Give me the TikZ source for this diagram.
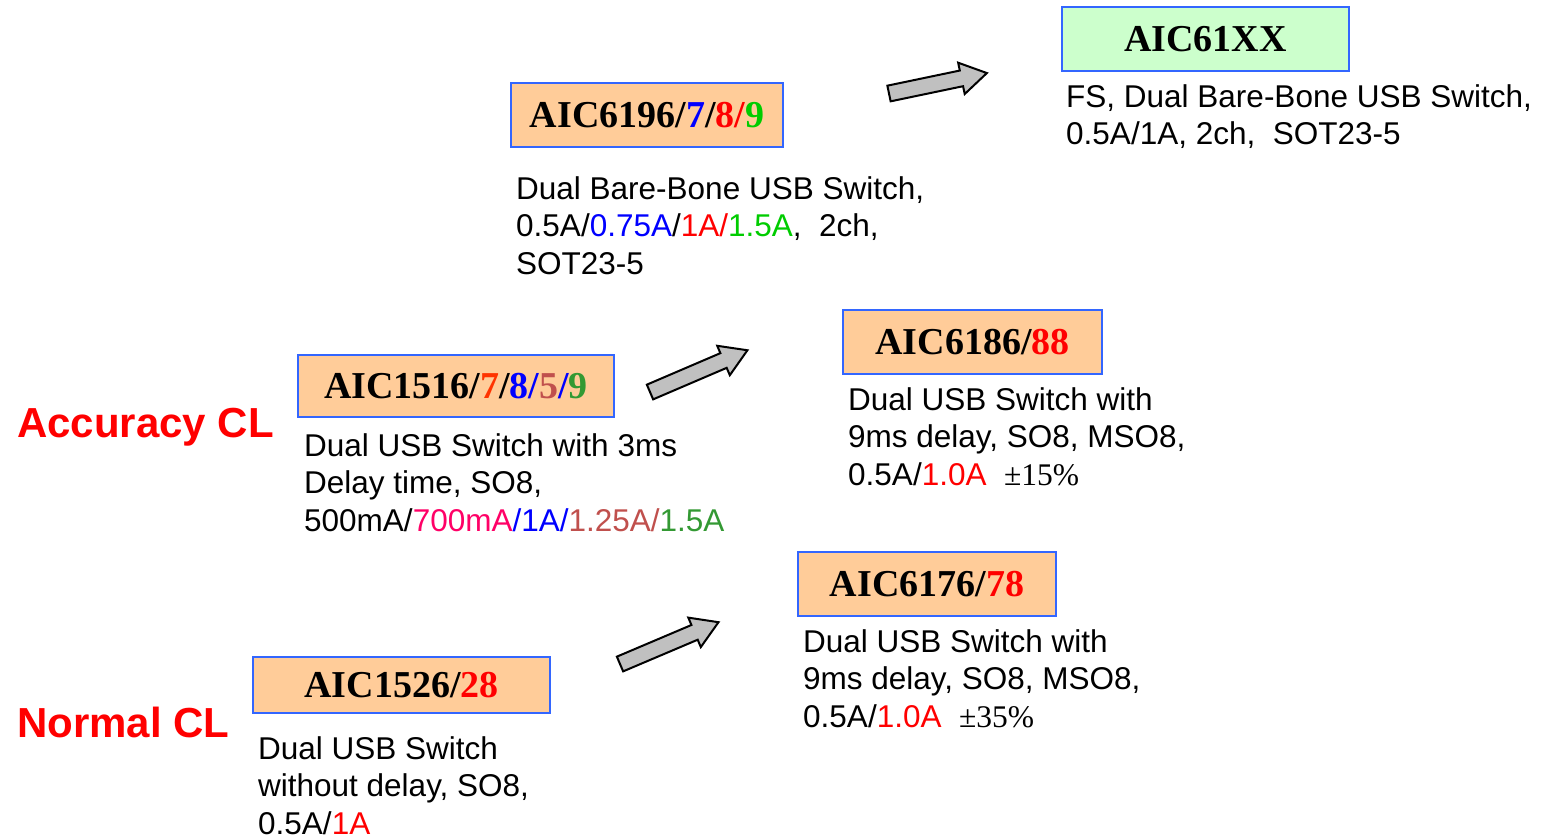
\documentclass[tikz,border=0pt]{standalone}
\usepackage{fontspec}
\setmainfont{Liberation Serif}
\setsansfont{Liberation Sans}
\usetikzlibrary{positioning}

\definecolor{boxorange}{HTML}{FFCC99}
\definecolor{boxgreen}{HTML}{CCFFCC}
\definecolor{boxblue}{HTML}{3366FF}
\definecolor{arrowgray}{HTML}{C0C0C0}
\definecolor{myred}{HTML}{FF0000}
\definecolor{myblue}{HTML}{0000FF}
\definecolor{mygreen}{HTML}{00CC00}
\definecolor{myorange}{HTML}{FF3300}
\definecolor{mypink}{HTML}{FF0066}
\definecolor{mybrown}{HTML}{C0504D}
\definecolor{mydkgreen}{HTML}{339933}

\newcommand\titlefont{\rmfamily\bfseries\fontsize{38}{45}\selectfont}
\newcommand\descfont{\sffamily\fontsize{31.5}{37.5}\selectfont}
\newcommand\labelfont{\sffamily\bfseries\fontsize{42}{50}\selectfont}

\begin{document}
\begin{tikzpicture}[x=1pt,y=-1pt,
  part/.style={draw=boxblue, line width=2pt, fill=boxorange, inner sep=0pt,
    text height=25pt, text depth=0pt, font=\titlefont},
  desc/.style={anchor=north west, align=left, inner sep=0pt, font=\descfont},
  family/.style={anchor=base west, inner sep=0pt, text=myred, font=\labelfont},
  bigarrow/.style={draw=black, line width=2pt, fill=arrowgray, line join=miter}]

\useasboundingbox (0,0) rectangle (1542,839);

\def\blockarrow#1{(0,-8) -- ({#1-26},-8) -- ({#1-26},-16) -- (#1,0)
  -- ({#1-26},16) -- ({#1-26},8) -- (0,8) -- cycle}

% product boxes
\node[part, fill=boxgreen, minimum width=287pt, minimum height=64pt] (n61xx) at (1205.5,39) {AIC61XX};
\node[part, minimum width=272pt, minimum height=64pt] (n6196) at (647,115)
  {AIC6196/\textcolor{myblue}{7}/\textcolor{myred}{8/}\textcolor{mygreen}{9}};
\node[part, minimum width=316pt, minimum height=62pt] (n1516) at (456,386)
  {AIC1516/\textcolor{myorange}{7}/\textcolor{myblue}{8/}\textcolor{mybrown}{5}\textcolor{myblue}{/}\textcolor{mydkgreen}{9}};
\node[part, minimum width=259pt, minimum height=64pt] (n6186) at (972.5,342) {AIC6186/\textcolor{myred}{88}};
\node[part, minimum width=258pt, minimum height=64pt] (n6176) at (927,584) {AIC6176/\textcolor{myred}{78}};
\node[part, minimum width=297pt, minimum height=56pt] (n1526) at (401.5,685) {AIC1526/\textcolor{myred}{28}};

% descriptions
\node[desc] (d61xx) at (1066,84) {FS, Dual Bare-Bone USB Switch,\\0.5A/1A, 2ch,\ \ SOT23-5};
\node[desc] (d6196) at (516,176) {Dual Bare-Bone USB Switch,\\
  0.5A/\textcolor{myblue}{0.75A}/\textcolor{myred}{1A/}\textcolor{mygreen}{1.5A},\ \ 2ch,\\SOT23-5};
\node[desc] (d1516) at (304,433) {Dual USB Switch with 3ms\\Delay time, SO8,\\
  500mA/\textcolor{mypink}{700mA}\textcolor{myblue}{/1A/}\textcolor{mybrown}{1.25A/}\textcolor{mydkgreen}{1.5A}};
\node[desc] (d6186) at (848,387) {Dual USB Switch with\\9ms delay, SO8, MSO8,\\
  0.5A/\textcolor{myred}{1.0A}\ \ {\rmfamily ±15\%}};
\node[desc] (d6176) at (803,629) {Dual USB Switch with\\9ms delay, SO8, MSO8,\\
  0.5A/\textcolor{myred}{1.0A}\ \ {\rmfamily ±35\%}};
\node[desc] (d1526) at (258,736) {Dual USB Switch\\without delay, SO8,\\0.5A/\textcolor{myred}{1A}};

% current limit families
\node[family] (acc) at (17,437) {Accuracy CL};
\node[family] (norm) at (17,737) {Normal CL};

% migration arrows
\draw[bigarrow, shift={(889,93.5)}, rotate=11.8] \blockarrow{100};
\draw[bigarrow, shift={(650,392)}, rotate=23.2] \blockarrow{106};
\draw[bigarrow, shift={(620,664)}, rotate=23] \blockarrow{107};
\end{tikzpicture}
\end{document}
